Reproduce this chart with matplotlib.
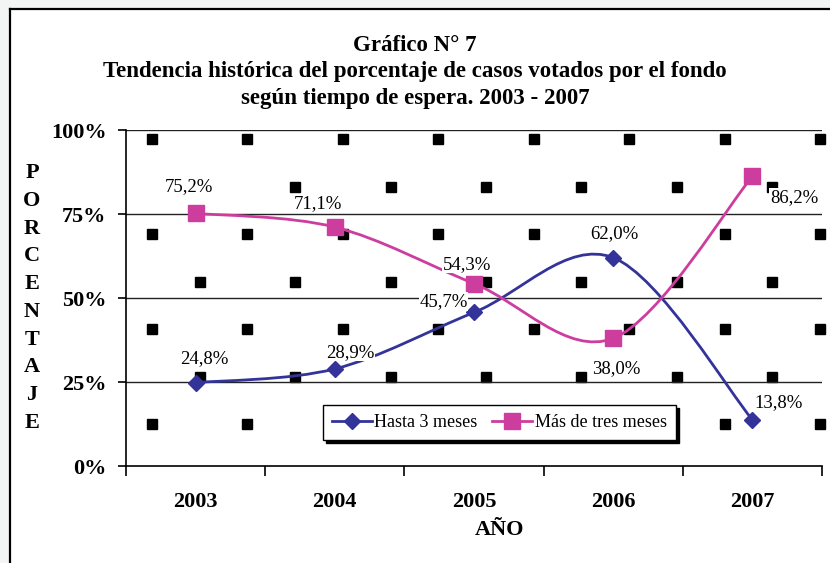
import matplotlib
matplotlib.use("Agg")
import matplotlib.pyplot as plt
import numpy as np
from matplotlib.path import Path
from matplotlib.patches import PathPatch, Rectangle
from matplotlib.lines import Line2D

# ---------------- data ----------------
years = ["2003", "2004", "2005", "2006", "2007"]
hasta3 = [24.8, 28.9, 45.7, 62.0, 13.8]
mas_tres = [75.2, 71.1, 54.3, 38.0, 86.2]
hasta3_labels = ["24,8%", "28,9%", "45,7%", "62,0%", "13,8%"]
mas_tres_labels = ["75,2%", "71,1%", "54,3%", "38,0%", "86,2%"]
yticks = [0, 25, 50, 75, 100]
ytick_labels = ["0%", "25%", "50%", "75%", "100%"]

title_text = ("Gráfico N° 7\n"
              "Tendencia histórica del porcentaje de casos votados por el fondo\n"
              "según tiempo de espera. 2003 - 2007")

BLUE = "#333399"
MAGENTA = "#CC3D9E"
SERIF = ["Liberation Serif", "DejaVu Serif"]
plt.rcParams["font.family"] = SERIF

W, H = 830, 563
fig = plt.figure(figsize=(W / 100, H / 100), dpi=100, facecolor="#f3f4f4")

# white chart area with black frame
fig.patches.append(Rectangle((10 / W, 0), 1, 1 - 9 / H, transform=fig.transFigure,
                             facecolor="white", edgecolor="none", zorder=-10))
fig.lines.append(Line2D([10 / W, 10 / W], [0, 1 - 9 / H], transform=fig.transFigure,
                        color="black", lw=1.6, zorder=-5))
fig.lines.append(Line2D([10 / W, 1], [1 - 9 / H, 1 - 9 / H], transform=fig.transFigure,
                        color="black", lw=1.6, zorder=-5))

ax_l, ax_r, ax_t, ax_b = 126, 822, 130, 466
ax = fig.add_axes([ax_l / W, 1 - ax_b / H, (ax_r - ax_l) / W, (ax_b - ax_t) / H])
ax.set_facecolor("white")

x = np.arange(len(years))
ax.set_xlim(-0.5, len(years) - 0.5)
ax.set_ylim(0, 100)

# background square pattern (decoration, axes fraction)
x0, dx, y0, dy = 0.0374, 0.1371, 0.973, 0.1414
px, py = [], []
for j in range(7):
    start = x0 if j % 2 == 0 else x0 + dx / 2
    xs = np.arange(start, 1.0, dx)
    px.extend(xs)
    py.extend([y0 - j * dy] * len(xs))
ax.plot(px, py, "s", color="black", markersize=7.9, transform=ax.transAxes,
        linestyle="none", zorder=0.5, clip_on=False)

# gridlines
for v in yticks[1:]:
    ax.axhline(v, color="#222222", lw=1.0, zorder=1)

# smoothed curves (Excel-like Catmull-Rom bezier)
def smooth_path(xs, ys):
    P = np.column_stack([xs, ys]).astype(float)
    n = len(P)
    verts = [P[0]]
    codes = [Path.MOVETO]
    for i in range(n - 1):
        p0 = P[i - 1] if i > 0 else P[i]
        p1 = P[i]
        p2 = P[i + 1]
        p3 = P[i + 2] if i + 2 < n else P[i + 1]
        c1 = p1 + (p2 - p0) / 6.0
        c2 = p2 - (p3 - p1) / 6.0
        verts += [c1, c2, p2]
        codes += [Path.CURVE4] * 3
    return Path(verts, codes)

for ys, col in [(hasta3, BLUE), (mas_tres, MAGENTA)]:
    ax.add_patch(PathPatch(smooth_path(x, ys), facecolor="none", edgecolor=col,
                           lw=2.0, zorder=3, capstyle="round", joinstyle="round"))

ax.plot(x, hasta3, linestyle="none", marker="D", markersize=8.5, color=BLUE, zorder=4,
        clip_on=False)
ax.plot(x, mas_tres, linestyle="none", marker="s", markersize=11, color=MAGENTA, zorder=4,
        clip_on=False)

# legend proxies
h1 = Line2D([], [], color=BLUE, lw=2.0, marker="D", markersize=8.5)
h2 = Line2D([], [], color=MAGENTA, lw=2.0, marker="s", markersize=11)
leg = ax.legend([h1, h2], ["Hasta 3 meses", "Más de tres meses"], ncol=2,
                loc="lower left", bbox_to_anchor=(0.283, 0.077, 0.507, 0.098),
                mode="expand", borderaxespad=0, fancybox=False, framealpha=1,
                edgecolor="black", prop={"family": SERIF, "size": 13},
                handlelength=2.2, handletextpad=0.15, columnspacing=0.8,
                borderpad=0.5, shadow={"color": "black", "alpha": 1})
leg.get_frame().set_linewidth(1.0)
leg.set_zorder(6)

# data labels (offsets in points)
blue_off = [(6, 17), (11, 12), (-22, 8), (1, 17), (19, 12)]
mag_off = [(-5, 19), (-12, 17), (-5, 14), (2, -22), (30, -15)]
for xi, v, lab, off in zip(x, hasta3, hasta3_labels, blue_off):
    ax.annotate(lab, (xi, v), xytext=off, textcoords="offset points", ha="center",
                va="center", fontsize=13.5, zorder=5,
                bbox=dict(facecolor="white", edgecolor="none", pad=0.5))
for xi, v, lab, off in zip(x, mas_tres, mas_tres_labels, mag_off):
    ax.annotate(lab, (xi, v), xytext=off, textcoords="offset points", ha="center",
                va="center", fontsize=13.5, zorder=5,
                bbox=dict(facecolor="white", edgecolor="none", pad=0.5))

# axes styling
for s in ["top", "right"]:
    ax.spines[s].set_visible(False)
ax.spines["left"].set_color("black")
ax.spines["bottom"].set_color("black")
ax.spines["left"].set_linewidth(1.2)
ax.spines["bottom"].set_linewidth(1.2)

ax.set_yticks(yticks)
ax.set_yticklabels(ytick_labels, fontsize=16, fontweight="bold")
ax.tick_params(axis="y", direction="out", length=6, width=1.2, pad=8)

ax.set_xticks(np.arange(-0.5, len(years), 1.0))
ax.set_xticklabels([])
ax.tick_params(axis="x", which="major", direction="out", length=7, width=1.2)
ax.set_xticks(x, minor=True)
ax.set_xticklabels(years, minor=True, fontsize=16, fontweight="bold")
ax.tick_params(axis="x", which="minor", length=0, pad=19)

# titles
fig.text(415 / W, 1 - 72 / H, title_text, ha="center", va="center", fontsize=16.5,
         fontweight="bold", linespacing=1.32)
fig.text(500 / W, 1 - 530 / H, "AÑO", ha="center", va="center", fontsize=16,
         fontweight="bold")
fig.text(32 / W, 1 - 298 / H, "\n".join("PORCENTAJE"), ha="center", va="center",
         fontsize=16, fontweight="bold", linespacing=1.52)

fig.savefig("out.png", dpi=100, facecolor=fig.get_facecolor())
